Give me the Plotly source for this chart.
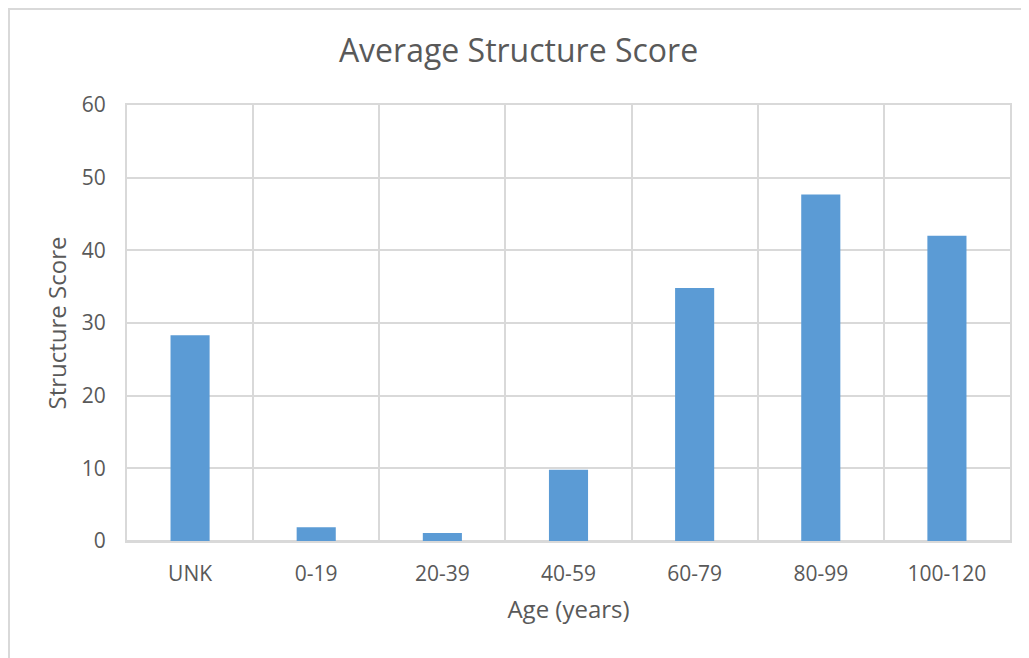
import plotly.graph_objects as go

categories = ["UNK", "0-19", "20-39", "40-59", "60-79", "80-99", "100-120"]
scores = [28.3, 1.9, 1.1, 9.8, 34.8, 47.7, 42.0]
y_ticks = [0, 10, 20, 30, 40, 50, 60]

# page has an 8px body margin, so the figure is offset by 8px
OFF = 8
W, H = 1029 - OFF, 658 - OFF
L, R, T, B = 127 - OFF, 1010 - OFF, 105 - OFF, 541 - OFF

fig = go.Figure(go.Bar(x=categories, y=scores, marker=dict(color="#5b9bd5", line=dict(width=0))))

font = "Open Sans, Liberation Sans, sans-serif"
grid = "#d9d9d9"
txt = "#595959"
fig.update_layout(
    width=W, height=H,
    margin=dict(l=L, r=W - R, t=T, b=H - B),
    paper_bgcolor="white", plot_bgcolor="white",
    bargap=0.69,
    showlegend=False,
    font=dict(family=font, color=txt),
    title=dict(text="Average Structure Score", x=0.5, xanchor="center",
               y=1 - (51 - OFF) / H, yanchor="middle", font=dict(size=32, color=txt, family=font)),
)
fig.update_xaxes(
    type="category", tickson="boundaries", showgrid=True, gridcolor=grid, gridwidth=2,
    ticks="", tickfont=dict(size=21, color=txt), ticklabelstandoff=13,
    showline=True, linecolor=grid, linewidth=2, mirror=True,
    title=dict(text="Age (years)", font=dict(size=24, color=txt), standoff=15),
)
fig.update_yaxes(
    range=[0, 60], tickvals=y_ticks, showgrid=True, gridcolor=grid, gridwidth=2,
    zeroline=True, zerolinecolor=grid, zerolinewidth=3,
    ticks="", tickfont=dict(size=21, color=txt), ticklabelstandoff=15,
    showline=True, linecolor=grid, linewidth=2, mirror=True,
    title=dict(text="Structure Score", font=dict(size=24, color=txt), standoff=8),
)

pw, ph = R - L, B - T
fig.add_shape(type="rect", xref="paper", yref="paper",
              x0=(1 - L) / pw, x1=(W + 20 - L) / pw,
              y0=(B - H - 20) / ph, y1=(B - 1) / ph,
              line=dict(color="#d9d9d9", width=2), layer="below")

fig.write_html("out.html")
